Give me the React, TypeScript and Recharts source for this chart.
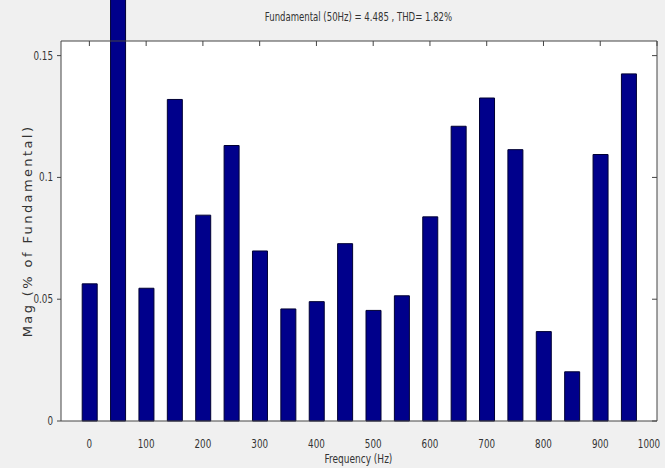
import { BarChart, Bar, XAxis, YAxis, CartesianGrid } from 'recharts';

// harmonic spectrum, 50 Hz bins
const freqs = [0, 50, 100, 150, 200, 250, 300, 350, 400, 450, 500, 550, 600, 650, 700, 750, 800, 850, 900, 950];
const mags = [
  0.0563, 0.185, 0.0545, 0.132, 0.0845, 0.1131, 0.0698, 0.046, 0.049, 0.0728,
  0.0454, 0.0514, 0.0838, 0.121, 0.1326, 0.1114, 0.0367, 0.0202, 0.1094, 0.1425,
];
const xTicks = [0, 100, 200, 300, 400, 500, 600, 700, 800, 900, 1000];
const yTicks = [0, 0.05, 0.1, 0.15];

const title = 'Fundamental (50Hz) = 4.485 , THD= 1.82%';
const xLabel = 'Frequency (Hz)';

const narrow = '"DejaVu Sans Condensed", "Liberation Sans Narrow", sans-serif';
const axisColor = '#444';
const textColor = '#333';

// squeezed tick text, like the matlab export
function XTick({ x, y, payload }: any) {
  return (
    <text
      x={0}
      y={0}
      dy={9}
      textAnchor="middle"
      fill={textColor}
      fontSize={12.5}
      fontFamily={narrow}
      transform={`translate(${x} ${y}) scale(0.78 1)`}
    >
      {payload.value}
    </text>
  );
}

function YTick({ x, y, payload }: any) {
  return (
    <text
      x={0}
      y={0}
      dy={4}
      textAnchor="end"
      fill={textColor}
      fontSize={12.5}
      fontFamily={narrow}
      transform={`translate(${x} ${y}) scale(0.78 1)`}
    >
      {payload.value}
    </text>
  );
}

const noLabel = () => '';

export default function App() {
  const data = freqs.map((f, i) => ({ freq: f, mag: mags[i] }));

  const squeezed = {
    position: 'absolute' as const,
    left: 61,
    width: 595,
    textAlign: 'center' as const,
    fontFamily: narrow,
    fontSize: 13,
    color: textColor,
    transform: 'scaleX(0.73)',
    whiteSpace: 'nowrap' as const,
  };

  return (
    <div style={{ position: 'relative', width: 665, height: 468, background: '#f0f0f0', overflow: 'hidden' }}>
      <style>{`body{margin:0;background:#f0f0f0} .recharts-bar, .recharts-bar *{clip-path:none !important}`}</style>
      <BarChart width={665} height={468} data={data} margin={{ top: 41, right: 8, bottom: 0, left: 0 }}>
        <CartesianGrid fill="#fff" horizontal={false} vertical={false} />
        <XAxis
          type="number"
          dataKey="freq"
          domain={[-50, 1000]}
          ticks={xTicks}
          height={47}
          tickLine={false}
          tickMargin={12}
          axisLine={{ stroke: axisColor }}
          tick={<XTick />}
        />
        <XAxis
          xAxisId="top"
          orientation="top"
          type="number"
          dataKey="freq"
          domain={[-50, 1000]}
          ticks={xTicks}
          height={1}
          mirror
          tickFormatter={noLabel}
          tickSize={5}
          stroke={axisColor}
        />
        <YAxis
          domain={[0, 0.156]}
          allowDataOverflow
          ticks={yTicks}
          width={61}
          tickSize={4}
          tickMargin={4}
          stroke={axisColor}
          tick={<YTick />}
          label={{
            value: 'Mag (% of Fundamental)',
            angle: -90,
            position: 'insideLeft',
            offset: 27,
            fill: textColor,
            fontSize: 13,
            fontFamily: '"DejaVu Sans", sans-serif',
            letterSpacing: 2.4,
            style: { textAnchor: 'middle' },
          }}
        />
        <YAxis
          yAxisId="right"
          orientation="right"
          domain={[0, 0.156]}
          allowDataOverflow
          ticks={yTicks}
          width={1}
          mirror
          tickFormatter={noLabel}
          tickSize={5}
          stroke={axisColor}
        />
        <Bar dataKey="mag" fill="#00008b" stroke="#000033" strokeWidth={1} barSize={15} isAnimationActive={false} />
        {/* invisible copy so the frame axes get ticks */}
        <Bar
          dataKey="mag"
          xAxisId="top"
          yAxisId="right"
          fill="none"
          stroke="none"
          barSize={15}
          isAnimationActive={false}
        />
      </BarChart>
      <div style={{ ...squeezed, top: 9 }}>{title}</div>
      <div style={{ ...squeezed, top: 451, fontSize: 12.5, transform: 'scaleX(0.8)' }}>{xLabel}</div>
    </div>
  );
}
